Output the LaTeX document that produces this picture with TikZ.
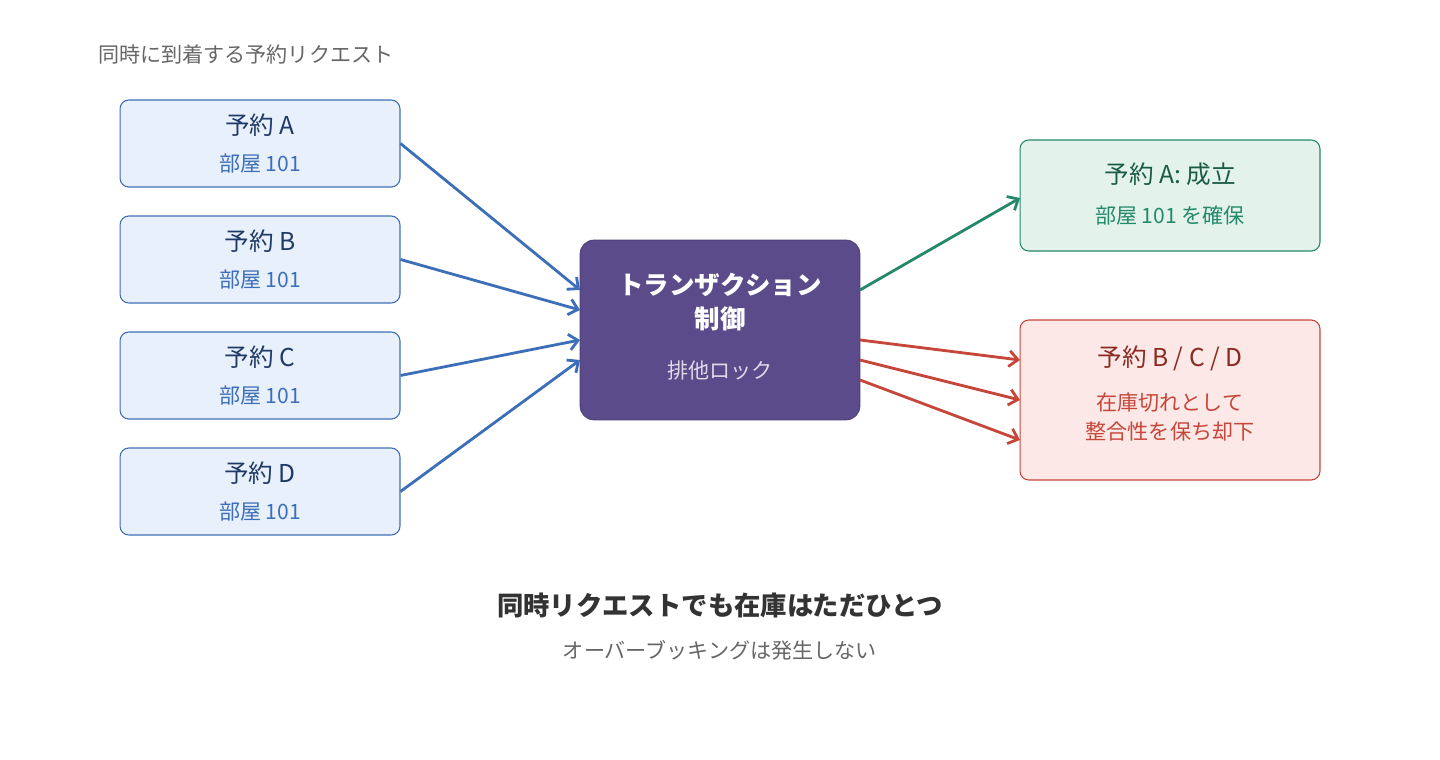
\documentclass[tikz,border=0pt]{standalone}
\usepackage{fontspec}
\setmainfont{Noto Sans CJK JP}
\usetikzlibrary{arrows.meta,positioning}
\definecolor{reqfill}{HTML}{E8F0FC}
\definecolor{reqdraw}{HTML}{3D6FB8}
\definecolor{reqtext}{HTML}{1F3A66}
\definecolor{lockfill}{HTML}{5B4B8A}
\definecolor{okfill}{HTML}{E3F3EC}
\definecolor{okdraw}{HTML}{23896A}
\definecolor{oktext}{HTML}{1A5C47}
\definecolor{ngfill}{HTML}{FCE8E6}
\definecolor{ngdraw}{HTML}{C6463A}
\definecolor{ngtext}{HTML}{8A2A22}
\definecolor{capgray}{HTML}{666666}
\begin{document}
\begin{tikzpicture}[x=0.02cm,y=-0.02cm,
  req/.style={rectangle,rounded corners=5pt,draw=reqdraw,fill=reqfill,
              minimum width=5.6cm,minimum height=1.74cm,line width=0.6pt},
  lock/.style={rectangle,rounded corners=8pt,draw=lockfill!80!black,fill=lockfill,
               minimum width=5.6cm,minimum height=3.6cm},
  res/.style={rectangle,rounded corners=5pt,minimum width=6cm,line width=0.6pt},
  big/.style={font=\fontsize{14}{16}\selectfont},
  small/.style={font=\fontsize{12}{14}\selectfont},
  arr/.style={-{Straight Barb[length=5pt,width=9pt]},line width=1.6pt}
]
\useasboundingbox (0,0) rectangle (1440,760);

% ---- Caption ----------------------------------------------
\node[anchor=west,small,text=capgray] (cap) at (92,54) {同時に到着する予約リクエスト};

% ---- Requests ---------------------------------------------
\foreach \n/\y in {A/143.5,B/259.5,C/375.5,D/491.5}{
  \node[req] (req\n) at (260,\y) {};
  \node[big,text=reqtext] at (260,\y-18) {予約 \n};
  \node[small,text=reqdraw] at (260,\y+20) {部屋 101};
}

% ---- Lock -------------------------------------------------
\node[lock] (lock) at (720,330) {};
\node[font=\fontsize{14.5}{19}\selectfont\bfseries,text=white,align=center] at (720,302) {トランザクション\\制御};
\node[small,text=white!80!lockfill] at (720,370) {排他ロック};

% ---- Results ----------------------------------------------
\node[res,draw=okdraw,fill=okfill,minimum height=2.22cm] (ok) at (1170,195.5) {};
\node[big,text=oktext] at (1170,174) {予約 A: 成立};
\node[small,text=okdraw] at (1170,215) {部屋 101 を確保};
\node[res,draw=ngdraw,fill=ngfill,minimum height=3.2cm] (ng) at (1170,400) {};
\node[big,text=ngtext] at (1170,358) {予約 B / C / D};
\node[small,text=ngdraw,align=center] at (1170,417) {在庫切れとして\\[2pt]整合性を保ち却下};

% ---- Connectors -------------------------------------------
\coordinate (inA) at (580,290);
\coordinate (inB) at (580,310);
\coordinate (inC) at (580,340);
\coordinate (inD) at (580,360);
\foreach \n in {A,B,C,D}
  \draw[arr,reqdraw] (req\n.east) -- (in\n);
\coordinate (okout) at (860,290);
\coordinate (okin) at (1020,198);
\draw[arr,okdraw] (okout) -- (okin);
\foreach \a/\b in {340/360,360/400,380/440}
  \draw[arr,ngdraw] (860,\a) -- (1020,\b);

% ---- Summary ----------------------------------------------
\node[font=\fontsize{15}{18}\selectfont\bfseries,text=black!80] (sum) at (720,605) {同時リクエストでも在庫はただひとつ};
\node[small,text=capgray] (sub) at (720,650) {オーバーブッキングは発生しない};
\end{tikzpicture}
\end{document}
